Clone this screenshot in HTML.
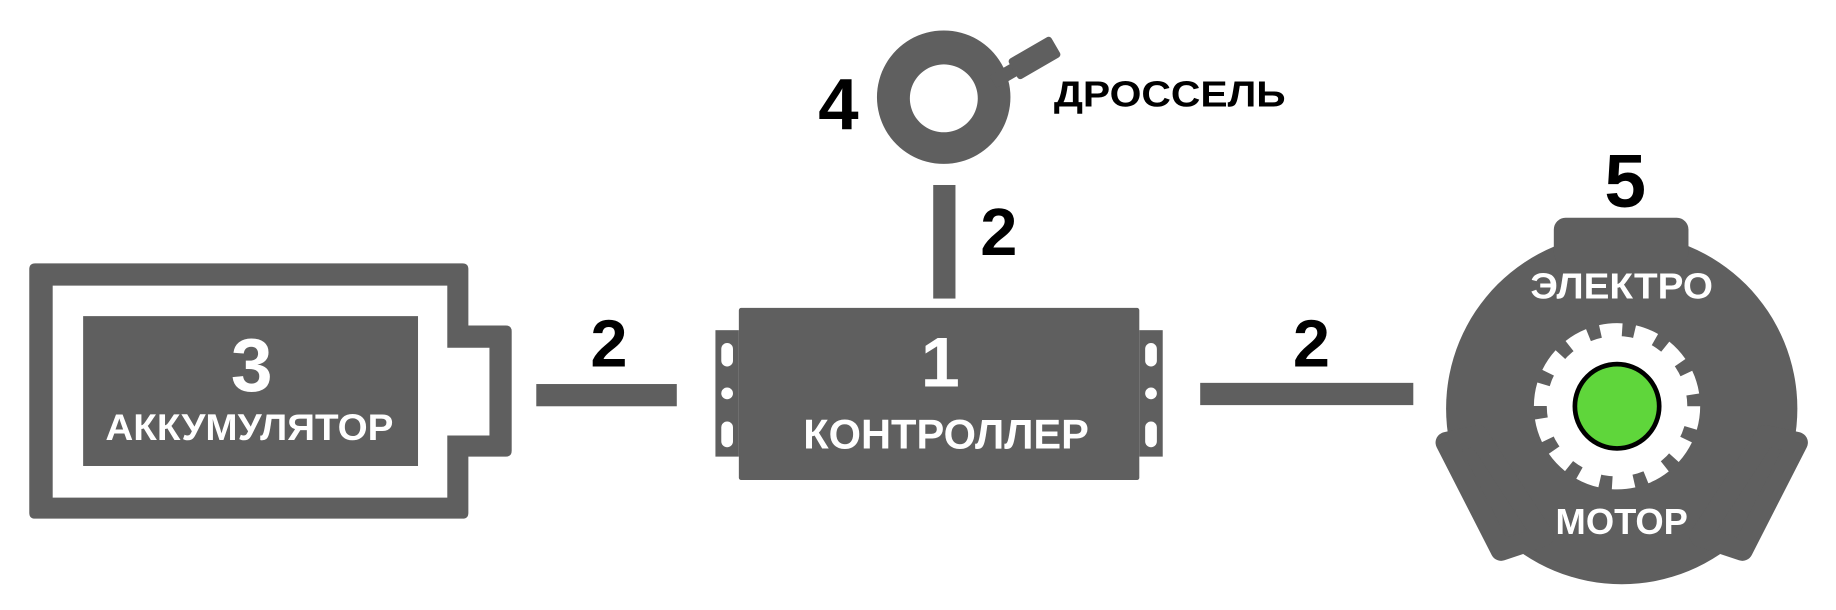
<!DOCTYPE html>
<html><head><meta charset="utf-8"><style>html,body{margin:0;padding:0;background:#fff}svg{display:block}</style></head>
<body>
<svg width="1836" height="610" viewBox="0 0 1568 521" preserveAspectRatio="none" xmlns="http://www.w3.org/2000/svg" font-family="'Liberation Sans', sans-serif" font-weight="bold">
<g fill="#5f5f5f">
<path d="M30 225 H395 Q400 225 400 230 V278 H432 Q437 278 437 283 V385 Q437 390 432 390 H400 V438 Q400 443 395 443 H30 Q25 443 25 438 V230 Q25 225 30 225 Z M45 244 V425 H382 V372 H418 V297 H382 V244 Z" fill-rule="evenodd"/>
<rect x="71" y="270" width="286" height="128"/>
<rect x="458" y="328" width="120" height="19"/>
<rect x="797" y="158" width="19" height="97"/>
<rect x="1025" y="327" width="182" height="19"/>
<rect x="631" y="263" width="342" height="147" rx="2"/>
<rect x="611" y="282" width="20" height="108"/>
<rect x="973" y="282" width="20" height="108"/>
<path d="M806 26 A57 57 0 1 1 805.9 26 Z M806 55 A29 29 0 1 0 806.1 55 Z" fill-rule="evenodd"/>
<g transform="translate(848 70) rotate(-30)">
<rect x="0" y="-6" width="25" height="12"/>
<rect x="20" y="-10" width="42" height="20" rx="3"/>
</g>
<circle cx="1385" cy="349" r="150"/>
<rect x="1327" y="186" width="115" height="40" rx="10"/>
<polygon points="1235,378 1262,372 1318,458 1282,470" stroke="#5f5f5f" stroke-width="18" stroke-linejoin="round"/>
<polygon points="1535,378 1508,372 1452,458 1488,470" stroke="#5f5f5f" stroke-width="18" stroke-linejoin="round"/>
</g>
<g fill="#fff">
<rect x="616" y="293" width="10" height="20" rx="5"/>
<circle cx="621" cy="336" r="5"/>
<rect x="616" y="360" width="10" height="22" rx="5"/>
<rect x="978" y="293" width="10" height="20" rx="5"/>
<circle cx="983" cy="336" r="5"/>
<rect x="978" y="360" width="10" height="22" rx="5"/>
<circle cx="1381" cy="347" r="60"/>
</g>
<circle cx="1381" cy="347" r="63" fill="none" stroke="#fff" stroke-width="16" stroke-dasharray="18 10.3"/>
<circle cx="1381" cy="347" r="36" fill="#5fd63b" stroke="#000" stroke-width="4"/>
<g fill="#fff" text-anchor="middle">
<text x="215" y="334" font-size="64">3</text>
<text x="213" y="376" font-size="32" textLength="246" lengthAdjust="spacingAndGlyphs">АККУМУЛЯТОР</text>
<text x="803" y="330" font-size="60">1</text>
<text x="808" y="383" font-size="36" textLength="244" lengthAdjust="spacingAndGlyphs">КОНТРОЛЛЕР</text>
<text x="1385" y="255" font-size="31" textLength="156" lengthAdjust="spacingAndGlyphs">ЭЛЕКТРО</text>
<text x="1385" y="456" font-size="31" textLength="113" lengthAdjust="spacingAndGlyphs">МОТОР</text>
</g>
<g fill="#000" text-anchor="middle">
<text x="520" y="313" font-size="57">2</text>
<text x="853" y="218" font-size="57">2</text>
<text x="1120" y="313" font-size="57">2</text>
<text x="716" y="110" font-size="62">4</text>
<text x="1388" y="177" font-size="64">5</text>
<text x="999" y="91" font-size="31" textLength="198" lengthAdjust="spacingAndGlyphs">ДРОССЕЛЬ</text>
</g>
</svg>
</body></html>
